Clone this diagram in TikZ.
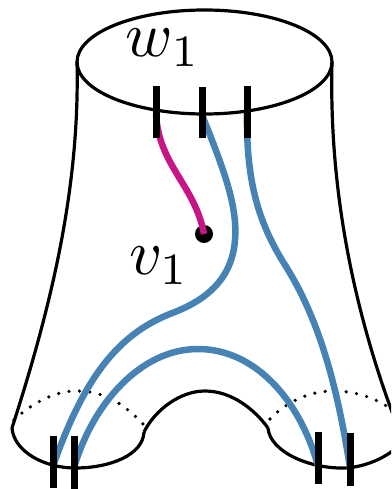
\documentclass[tikz,border=0pt]{standalone}
\definecolor{strandblue}{HTML}{4682B4}
\definecolor{strandmag}{HTML}{C71585}
\begin{document}
\begin{tikzpicture}[x=1pt,y=-1pt,
  outline/.style={draw=black,line width=3.2pt},
  dots/.style={draw=black,line width=3.6pt,line cap=round,dash pattern=on 0pt off 10.5pt},
  strand/.style={draw=strandblue,line width=6.5pt},
  strandm/.style={draw=strandmag,line width=6.5pt},
  tick/.style={draw=black,line width=7pt},
  lab/.style={inner sep=0pt,scale=6.4}]
\useasboundingbox (0,0) rectangle (391,489);
\clip (0,0) rectangle (391,489);
% anchors on the boundary circles
\coordinate (t1) at (156,113);
\coordinate (t2) at (202,115);
\coordinate (t3) at (247,113);
\coordinate (b1) at (53,466);
\coordinate (b2) at (74,468);
\coordinate (b3) at (318,466);
\coordinate (b4) at (350,468);
\node[circle,fill=black,minimum size=18pt,inner sep=0pt] (v) at (204,234) {};
% surface outline
\draw[outline] (204.5,62) ellipse [x radius=127.5,y radius=52];
\draw[outline] (77,62) .. controls (80,190) and (50,310) .. (12,428);
\draw[outline] (332,62) .. controls (329,180) and (350,300) .. (395,420);
\draw[outline] (12,428) .. controls (14,452) and (45,468) .. (75,468)
  .. controls (110,468) and (143,455) .. (144,432);
\draw[outline] (144,432) .. controls (155,410) and (180,391) .. (205,391)
  .. controls (232,391) and (255,410) .. (268,428);
\draw[outline] (268,428) .. controls (270,452) and (310,469) .. (345,468)
  .. controls (365,467) and (385,458) .. (396,448);
\draw[dots] (14,420) .. controls (35,400) and (60,390) .. (78,391)
  .. controls (105,391) and (125,405) .. (143,424);
\draw[dots] (270,419) .. controls (290,398) and (315,391) .. (333,391)
  .. controls (355,391) and (375,398) .. (388,407);
% strands
\draw[strandm] (t1) .. controls (158,165) and (195,185) .. (v.center);
\draw[strand] (t2) .. controls (222,165) and (238,205) .. (235,240)
  .. controls (232,280) and (205,300) .. (175,312)
  .. controls (120,332) and (85,375) .. (b1);
\draw[strand] (t3) .. controls (246,185) and (260,225) .. (285,265)
  .. controls (320,320) and (338,390) .. (b4);
\draw[strand] (b2) .. controls (92,405) and (140,349) .. (198,349)
  .. controls (255,349) and (300,400) .. (b3);
% ticks
\draw[tick] (156,86) -- (t1) -- (156,138);
\draw[tick] (202,87) -- (t2) -- (202,138);
\draw[tick] (247,86) -- (t3) -- (247,138);
\draw[tick] (53,436) -- (b1) -- (53,488);
\draw[tick] (74,436) -- (b2) -- (74,489);
\draw[tick] (318,432) -- (b3) -- (318,484);
\draw[tick] (350,433) -- (b4) -- (350,486);
% labels
\node[lab] (wl) at (163,48) {$w_1$};
\node[lab] (vl) at (159,266) {$v_1$};
\end{tikzpicture}
\end{document}
